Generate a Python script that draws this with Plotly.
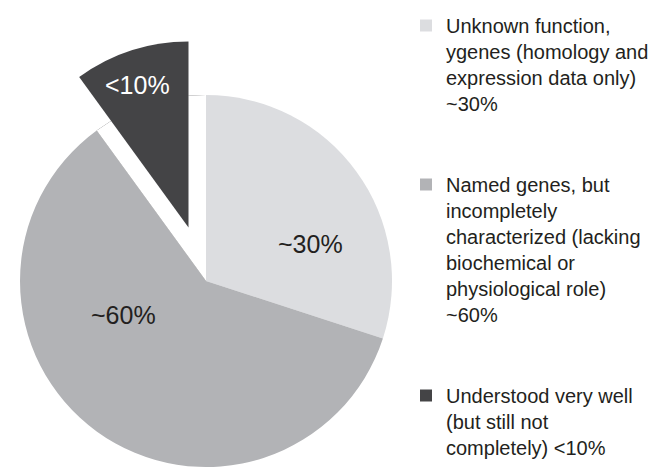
import plotly.graph_objects as go

# ---- data ----
labels = [
    "Unknown function,<br>ygenes (homology and<br>expression data only)<br>~30%<br> <br> ",
    "Named genes, but<br>incompletely<br>characterized (lacking<br>biochemical or<br>physiological role)<br>~60%<br> <br> ",
    "Understood very well<br>(but still not<br>completely) <10%",
]
values = [30, 60, 10]
slice_text = ["~30%", "~60%", "<10%"]
colors = ["#dcdde0", "#b2b3b6", "#444446"]

W, H = 664, 467
TXT = "#231f20"

def px_dom(x0, x1, ytop, ybot):
    return dict(x=[x0 / W, x1 / W], y=[(H - ybot) / H, (H - ytop) / H])

main_dom = px_dom(20, 392, 95, 467)
pulled_dom = px_dom(2.5, 374.5, 41.5, 413.5)

fig = go.Figure()

# full pie (legend source)
fig.add_trace(go.Pie(
    labels=labels, values=values, sort=False, direction="clockwise", rotation=0,
    marker=dict(colors=colors, line=dict(width=0)),
    textinfo="none", domain=main_dom, hoverinfo="label+percent",
))
# white cover where the pulled slice originally sat
fig.add_trace(go.Pie(
    labels=labels, values=values, sort=False, direction="clockwise", rotation=0,
    marker=dict(colors=["rgba(0,0,0,0)", "rgba(0,0,0,0)", "#ffffff"], line=dict(width=0)),
    textinfo="none", domain=main_dom, showlegend=False, hoverinfo="skip",
))
# pulled-out slice
fig.add_trace(go.Pie(
    labels=labels, values=values, sort=False, direction="clockwise", rotation=0,
    marker=dict(colors=["rgba(0,0,0,0)", "rgba(0,0,0,0)", colors[2]], line=dict(width=0)),
    textinfo="none", domain=pulled_dom, showlegend=False, hoverinfo="skip",
))

# slice labels
label_pos = [(310, 244), (123, 315), (137, 85)]
label_col = [TXT, TXT, "#ffffff"]
for t, (px, py), c in zip(slice_text, label_pos, label_col):
    fig.add_annotation(
        x=px / W, y=1 - py / H, xref="paper", yref="paper",
        text=t, showarrow=False, xanchor="center", yanchor="middle",
        font=dict(size=25, color=c, family="Liberation Sans"),
    )

fig.update_layout(
    width=W, height=H,
    margin=dict(l=0, r=0, t=0, b=0),
    paper_bgcolor="white", plot_bgcolor="white",
    font=dict(family="Liberation Sans", color=TXT),
    legend=dict(
        x=406 / W, y=0.985, xanchor="left", yanchor="top",
        font=dict(size=20, color=TXT, family="Liberation Sans"),
        bgcolor="rgba(0,0,0,0)", borderwidth=0, valign="top",
        itemclick=False, itemdoubleclick=False,
    ),
)

fig.write_html("out.html", config={"displayModeBar": False},
               post_script="document.body.style.margin='0';")
